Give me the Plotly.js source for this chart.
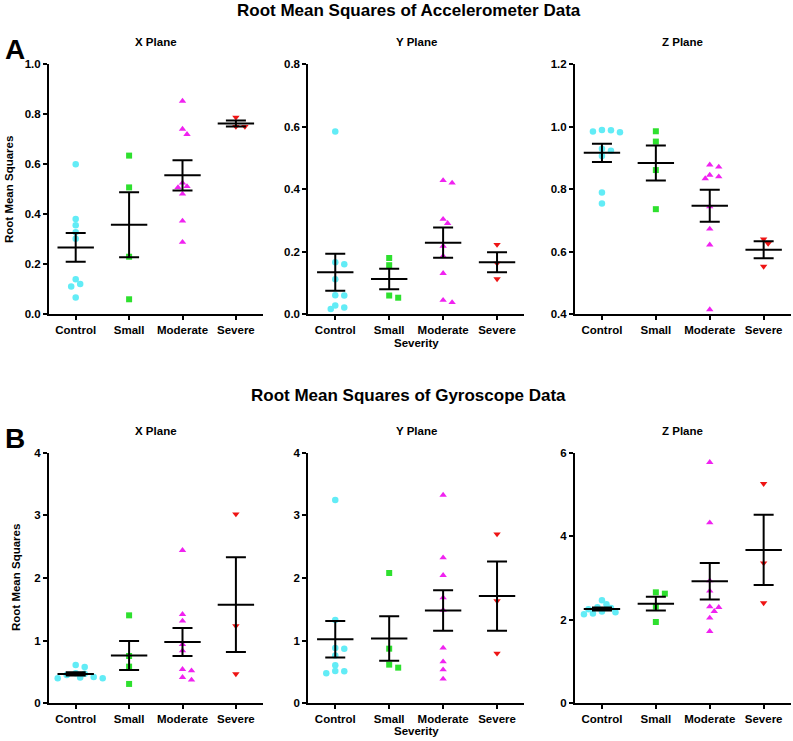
<!DOCTYPE html>
<html>
<head>
<meta charset="utf-8">
<script src="https://cdn.plot.ly/plotly-3.0.1.min.js"></script>
<style>
  html, body { margin: 0; padding: 0; background: #ffffff; }
  #chart { width: 793px; height: 741px; }
</style>
</head>
<body>
<div id="chart"></div>
<script>
// ---------------- DATA ----------------
const categories = ["Control", "Small", "Moderate", "Severe"];

// Accelerometer RMS
const accX_Control  = [0.599, 0.381, 0.356, 0.328, 0.302, 0.140, 0.121, 0.111, 0.067];
const accX_Small    = [0.634, 0.507, 0.230, 0.060];
const accX_Moderate = [0.852, 0.740, 0.719, 0.525, 0.511, 0.507, 0.481, 0.373, 0.288];
const accX_Severe   = [0.787, 0.750, 0.750];

const accY_Control  = [0.584, 0.166, 0.160, 0.112, 0.061, 0.060, 0.028, 0.022, 0.017];
const accY_Small    = [0.180, 0.157, 0.060, 0.053];
const accY_Moderate = [0.428, 0.420, 0.304, 0.291, 0.218, 0.186, 0.131, 0.045, 0.038];
const accY_Severe   = [0.223, 0.163, 0.113];

const accZ_Control  = [0.989, 0.988, 0.984, 0.982, 0.929, 0.923, 0.906, 0.789, 0.754];
const accZ_Small    = [0.985, 0.952, 0.861, 0.736];
const accZ_Moderate = [0.878, 0.871, 0.845, 0.840, 0.834, 0.744, 0.673, 0.622, 0.415];
const accZ_Severe   = [0.640, 0.626, 0.553];

// Gyroscope RMS
const gyrX_Control  = [0.61, 0.58, 0.48, 0.47, 0.45, 0.42, 0.41, 0.40, 0.40];
const gyrX_Small    = [1.404, 0.755, 0.585, 0.309];
const gyrX_Moderate = [2.441, 1.420, 1.314, 0.941, 0.840, 0.543, 0.521, 0.415, 0.372];
const gyrX_Severe   = [3.021, 1.234, 0.468];

const gyrY_Control  = [3.245, 1.330, 0.883, 0.872, 0.761, 0.606, 0.516, 0.511, 0.479];
const gyrY_Small    = [2.080, 0.872, 0.617, 0.569];
const gyrY_Moderate = [3.324, 2.324, 2.043, 1.686, 1.489, 0.883, 0.665, 0.537, 0.388];
const gyrY_Severe   = [2.702, 1.633, 0.798];

const gyrZ_Control  = [2.47, 2.37, 2.30, 2.28, 2.25, 2.20, 2.18, 2.15, 2.13];
const gyrZ_Small    = [2.657, 2.625, 2.314, 1.947];
const gyrZ_Moderate = [5.769, 4.324, 2.936, 2.689, 2.314, 2.298, 2.202, 2.043, 1.723];
const gyrZ_Severe   = [5.258, 3.359, 2.402];

// ---------------- STYLE / LAYOUT ----------------
const W = 793, H = 741;
const FONT = "Liberation Sans, Arial, Helvetica, sans-serif";
const groupStyle = [
  { symbol: "circle",        color: "#62ECF6", size: 6.5 },
  { symbol: "square",        color: "#2EE02E", size: 6 },
  { symbol: "triangle-up",   color: "#F022F0", size: 6.5 },
  { symbol: "triangle-down", color: "#EE1414", size: 6.5 }
];

const panels = [
  { groups: [accX_Control, accX_Small, accX_Moderate, accX_Severe], px: [49, 262.6],  py: [64, 314.3],   range: [0, 1.0], dtick: 0.2, fmt: ".1f", title: "X Plane" },
  { groups: [accY_Control, accY_Small, accY_Moderate, accY_Severe], px: [308.3, 524], py: [64, 314.3],   range: [0, 0.8], dtick: 0.2, fmt: ".1f", title: "Y Plane" },
  { groups: [accZ_Control, accZ_Small, accZ_Moderate, accZ_Severe], px: [575, 790.6], py: [64, 314.3],   range: [0.4, 1.2], dtick: 0.2, fmt: ".1f", title: "Z Plane" },
  { groups: [gyrX_Control, gyrX_Small, gyrX_Moderate, gyrX_Severe], px: [49, 262.6],  py: [452.7, 703.3], range: [0, 4], dtick: 1, fmt: "d", title: "X Plane" },
  { groups: [gyrY_Control, gyrY_Small, gyrY_Moderate, gyrY_Severe], px: [308.3, 524], py: [452.7, 703.3], range: [0, 4], dtick: 1, fmt: "d", title: "Y Plane" },
  { groups: [gyrZ_Control, gyrZ_Small, gyrZ_Moderate, gyrZ_Severe], px: [575, 790.6], py: [452.7, 703.3], range: [0, 6], dtick: 2, fmt: "d", title: "Z Plane" }
];

function mean(a) { return a.reduce((s, v) => s + v, 0) / a.length; }
function sem(a) {
  const m = mean(a);
  const v = a.reduce((s, x) => s + (x - m) * (x - m), 0) / (a.length - 1);
  return Math.sqrt(v) / Math.sqrt(a.length);
}

// simple deterministic beeswarm: horizontal offsets to avoid overlaps (pixel space)
function swarm(vals, pxPerY, pxPerCat, center) {
  const d = 5.5, step = 4.5;
  const order = vals.map((v, i) => i).sort((a, b) => vals[b] - vals[a]);
  const placed = [];
  const xs = new Array(vals.length);
  const cands = [0];
  for (let j = 1; j < 12; j++) { cands.push(j * step, -j * step); }
  for (const i of order) {
    const yp = vals[i] * pxPerY;
    let off = 0;
    for (const c of cands) {
      if (placed.every(p => Math.hypot(p.x - c, p.y - yp) >= d)) { off = c; break; }
    }
    placed.push({ x: off, y: yp });
    xs[i] = center + off / pxPerCat;
  }
  return xs;
}

const traces = [];
const layout = {
  width: W, height: H,
  margin: { l: 0, r: 0, t: 0, b: 0 },
  paper_bgcolor: "#ffffff", plot_bgcolor: "rgba(0,0,0,0)",
  showlegend: false,
  font: { family: FONT, color: "#000000", size: 11 },
  annotations: []
};

panels.forEach((p, k) => {
  const n = k + 1;
  const xa = "x" + (n === 1 ? "" : n), ya = "y" + (n === 1 ? "" : n);
  const xkey = "xaxis" + (n === 1 ? "" : n), ykey = "yaxis" + (n === 1 ? "" : n);
  const pxPerCat = (p.px[1] - p.px[0]) / 4;
  const pxPerY = (p.py[1] - p.py[0]) / (p.range[1] - p.range[0]);

  layout[xkey] = {
    domain: [p.px[0] / W, p.px[1] / W],
    anchor: ya, range: [0.5, 4.5],
    tickvals: [1, 2, 3, 4], ticktext: categories,
    ticks: "outside", ticklen: 4, tickwidth: 2, tickcolor: "#000",
    showline: true, linewidth: 2, linecolor: "#000",
    showgrid: false, zeroline: false, fixedrange: true,
    tickfont: { family: FONT, size: 11.5, weight: "bold", color: "#000" }
  };
  layout[ykey] = {
    domain: [(H - p.py[1]) / H, (H - p.py[0]) / H],
    anchor: xa, range: p.range, dtick: p.dtick, tick0: p.range[0],
    tickformat: p.fmt,
    ticks: "outside", ticklen: 4, tickwidth: 2, tickcolor: "#000",
    showline: true, linewidth: 2, linecolor: "#000",
    showgrid: false, zeroline: false, fixedrange: true,
    tickfont: { family: FONT, size: 11.5, weight: "bold", color: "#000" }
  };

  p.groups.forEach((vals, g) => {
    const st = groupStyle[g];
    traces.push({
      type: "scatter", mode: "markers", xaxis: xa, yaxis: ya,
      x: swarm(vals, pxPerY, pxPerCat, g + 1), y: vals,
      cliponaxis: false, hoverinfo: "y",
      marker: { symbol: st.symbol, color: st.color, size: st.size, line: { width: 0 } }
    });
  });

  // mean +/- SEM
  traces.push({
    type: "scatter", mode: "markers", xaxis: xa, yaxis: ya,
    x: [1, 2, 3, 4], y: p.groups.map(mean), cliponaxis: false,
    marker: { symbol: "line-ew", size: 26, color: "#000", line: { width: 2, color: "#000" } },
    error_y: { type: "data", array: p.groups.map(sem), visible: true, color: "#000", thickness: 2, width: 10 },
    hoverinfo: "y"
  });

  // panel title
  layout.annotations.push({
    xref: "paper", yref: "paper", x: (p.px[0] + p.px[1]) / 2 / W,
    y: (H - (p.py[0] - 22)) / H, xanchor: "center", yanchor: "middle",
    text: p.title, showarrow: false,
    font: { family: FONT, size: 11.5, weight: "bold", color: "#000" }
  });
});

function ann(text, xpx, ypx, size, extra) {
  return Object.assign({
    xref: "paper", yref: "paper", x: xpx / W, y: (H - ypx) / H,
    xanchor: "center", yanchor: "middle", text: text, showarrow: false,
    font: { family: FONT, size: size, weight: "bold", color: "#000" }
  }, extra || {});
}

layout.annotations.push(ann("Root Mean Squares of Accelerometer Data", 408.5, 10, 17));
layout.annotations.push(ann("Root Mean Squares of Gyroscope Data", 408.5, 396, 17));
layout.annotations.push(ann("A", 15, 50, 28));
layout.annotations.push(ann("B", 15, 439, 28));
layout.annotations.push(ann("Root Mean Squares", 9, 190, 11.5, { textangle: -90 }));
layout.annotations.push(ann("Root Mean Squares", 16, 578, 11.5, { textangle: -90 }));
layout.annotations.push(ann("Severity", 416, 343, 11.5));
layout.annotations.push(ann("Severity", 416, 731, 11.5));

Plotly.newPlot("chart", traces, layout, { displayModeBar: false, staticPlot: true });
</script>
</body>
</html>
